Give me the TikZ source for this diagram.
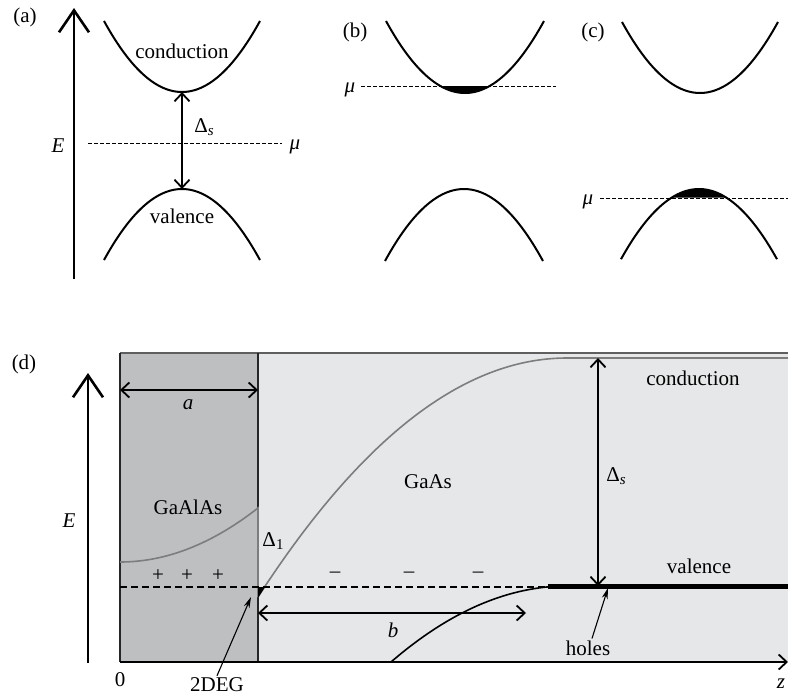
\documentclass[tikz,border=0pt]{standalone}
\usepackage{fontspec}
\setmainfont{Liberation Serif}
\usetikzlibrary{arrows.meta}
\definecolor{darkfill}{RGB}{190,191,193}
\definecolor{lightfill}{RGB}{230,231,232}
\definecolor{curvegray}{RGB}{125,125,125}
\definecolor{edgegray}{RGB}{95,95,95}
\newcommand{\mysub}[1]{\raisebox{-0.35ex}{\fontsize{15}{15}\selectfont #1}}
\begin{document}
\begin{tikzpicture}[x=1pt,y=-1pt,
  lbl/.style={font=\fontsize{21}{25}\selectfont, inner sep=0pt},
  band/.style={line width=2pt, line join=round},
  bigaxis/.style={line width=2.6pt, -{Straight Barb[length=22pt,width=30pt]}},
  dimarrow/.style={line width=1.8pt, {Straight Barb[length=8pt,width=15pt]}-{Straight Barb[length=8pt,width=15pt]}},
  dotline/.style={line width=1pt, dash pattern=on 3.5pt off 2.5pt},
  dashline/.style={line width=1.6pt, dash pattern=on 7pt off 4pt},
  graycurve/.style={line width=1.6pt, curvegray},
  pointer/.style={line width=1.1pt, -{Stealth[length=11pt,width=6pt]}},
]
\useasboundingbox (0,0) rectangle (788,697);

% ---------------- panel (a)
\node[lbl] (la) at (25,17) {(a)};
\draw[bigaxis] (74,279) -- (74,8);
\node[lbl] (Ea) at (58,146) {\textit{E}};
\draw[band] plot[domain=-78:78,samples=61] ({182+\x},{92-0.01167*\x*\x});
\draw[band] plot[domain=-78:78,samples=61] ({182+\x},{189+0.01167*\x*\x});
\node[lbl] (conda) at (182,51) {conduction};
\node[lbl] (vala) at (182,216) {valence};
\coordinate (ca) at (182,92);
\coordinate (va) at (182,189);
\draw[dimarrow] (ca) -- (va);
\node[lbl] (Dsa) at (204,127) {Δ\mysub{\textit{s}}};
\coordinate (mua1) at (88,143);
\coordinate (mua2) at (282,143);
\draw[dotline] (mua1) -- (mua2);
\node[lbl] (mua) at (295,147) {\textit{μ}};

% ---------------- panel (b)
\node[lbl] (lb) at (355,32) {(b)};
\fill plot[domain=-24.6:24.6,samples=31] ({465+\x},{93-0.01154*\x*\x}) -- cycle;
\draw[band] plot[domain=-79:79,samples=61] ({465+\x},{93-0.01154*\x*\x});
\draw[band] plot[domain=-79:79,samples=61] ({464+\x},{189+0.01154*\x*\x});
\coordinate (mub1) at (361,86);
\coordinate (mub2) at (556,86);
\draw[dotline] (mub1) -- (mub2);
\node[lbl] (mub) at (350,90) {\textit{μ}};

% ---------------- panel (c)
\node[lbl] (lc) at (593,32) {(c)};
\draw[band] plot[domain=-78:78,samples=61] ({700+\x},{93-0.01167*\x*\x});
\fill plot[domain=-27.5:27.5,samples=31] ({699+\x},{189+0.01154*\x*\x}) -- cycle;
\draw[band] plot[domain=-78:78,samples=61] ({699+\x},{189+0.01154*\x*\x});
\coordinate (muc1) at (600,198);
\coordinate (muc2) at (792,198);
\draw[dotline] (muc1) -- (muc2);
\node[lbl] (muc) at (588,202) {\textit{μ}};

% ---------------- panel (d)
\node[lbl] (ld) at (24,364) {(d)};
\fill[darkfill] (120,353) rectangle (258,662);
\fill[lightfill] (258,353) rectangle (800,662);
\draw[line width=2pt, edgegray] (120,353) -- (800,353);
\draw[line width=1.4pt, black!85] (120,662) -- (120,353);
\draw[line width=1.4pt, black!85] (258,353) -- (258,662);
\draw[line width=1.8pt, -{Straight Barb[length=8pt,width=15pt]}] (120,662) -- (788,662);
\node[lbl] (zero) at (120,680) {0};
\node[lbl] (zlab) at (781,684) {\textit{z}};

\draw[bigaxis] (88,663) -- (88,373);
\node[lbl] (Ed) at (69,521) {\textit{E}};

% dimension a
\coordinate (aL) at (120,390);
\coordinate (aR) at (258,390);
\draw[dimarrow] (aL) -- (aR);
\node[lbl] (alab) at (188,405) {\textit{a}};

% GaAlAs conduction band
\draw[graycurve] (120,562) .. controls (166,562) and (212,544) .. (258,508) -- (258,597);
\node[lbl] (gaalas) at (188,507) {GaAlAs};
\node[lbl] (D1) at (273,541) {Δ\mysub{1}};
\node[lbl] (p1) at (158,576) {+};
\node[lbl] (p2) at (187,576) {+};
\node[lbl] (p3) at (218,576) {+};

% GaAs conduction band
\draw[graycurve] (258,597) .. controls (361,437.7) and (464,358) .. (567,358) -- (800,358);
\node[lbl] (gaas) at (428,482) {GaAs};
\node[lbl] (m1) at (335,575) {–};
\node[lbl] (m2) at (409,575) {–};
\node[lbl] (m3) at (478,575) {–};

% Fermi level
\draw[dashline] (120,587) -- (560,587);
\fill (258,587) -- (265,587) -- (258,598) -- cycle;

% valence band
\draw[line width=1.6pt] (391,662) .. controls (449.7,611.3) and (508.3,586) .. (567,586);
\draw[line width=4.5pt] (548,586.5) -- (800,586.5);

% dimension b
\coordinate (bL) at (258,613);
\coordinate (bR) at (526,613);
\draw[dimarrow] (bL) -- (bR);
\node[lbl] (blab) at (393,630) {\textit{b}};

% Delta_s in (d)
\coordinate (Dtop) at (598,358);
\coordinate (Dbot) at (598,586);
\draw[dimarrow] (Dtop) -- (Dbot);
\node[lbl] (Dsd) at (616,476) {Δ\mysub{\textit{s}}};
\node[lbl] (condd) at (693,378) {conduction};
\node[lbl] (vald) at (699,566) {valence};

% pointers
\node[lbl] (holes) at (588,648) {holes};
\coordinate (holesT) at (608,588);
\draw[pointer] (holes.north) ++(4,-2) -- (holesT);
\node[lbl] (deg) at (217,685) {2DEG};
\coordinate (degT) at (251,597);
\draw[pointer] (deg.north) ++(0,-2) -- (degT);
\end{tikzpicture}
\end{document}
